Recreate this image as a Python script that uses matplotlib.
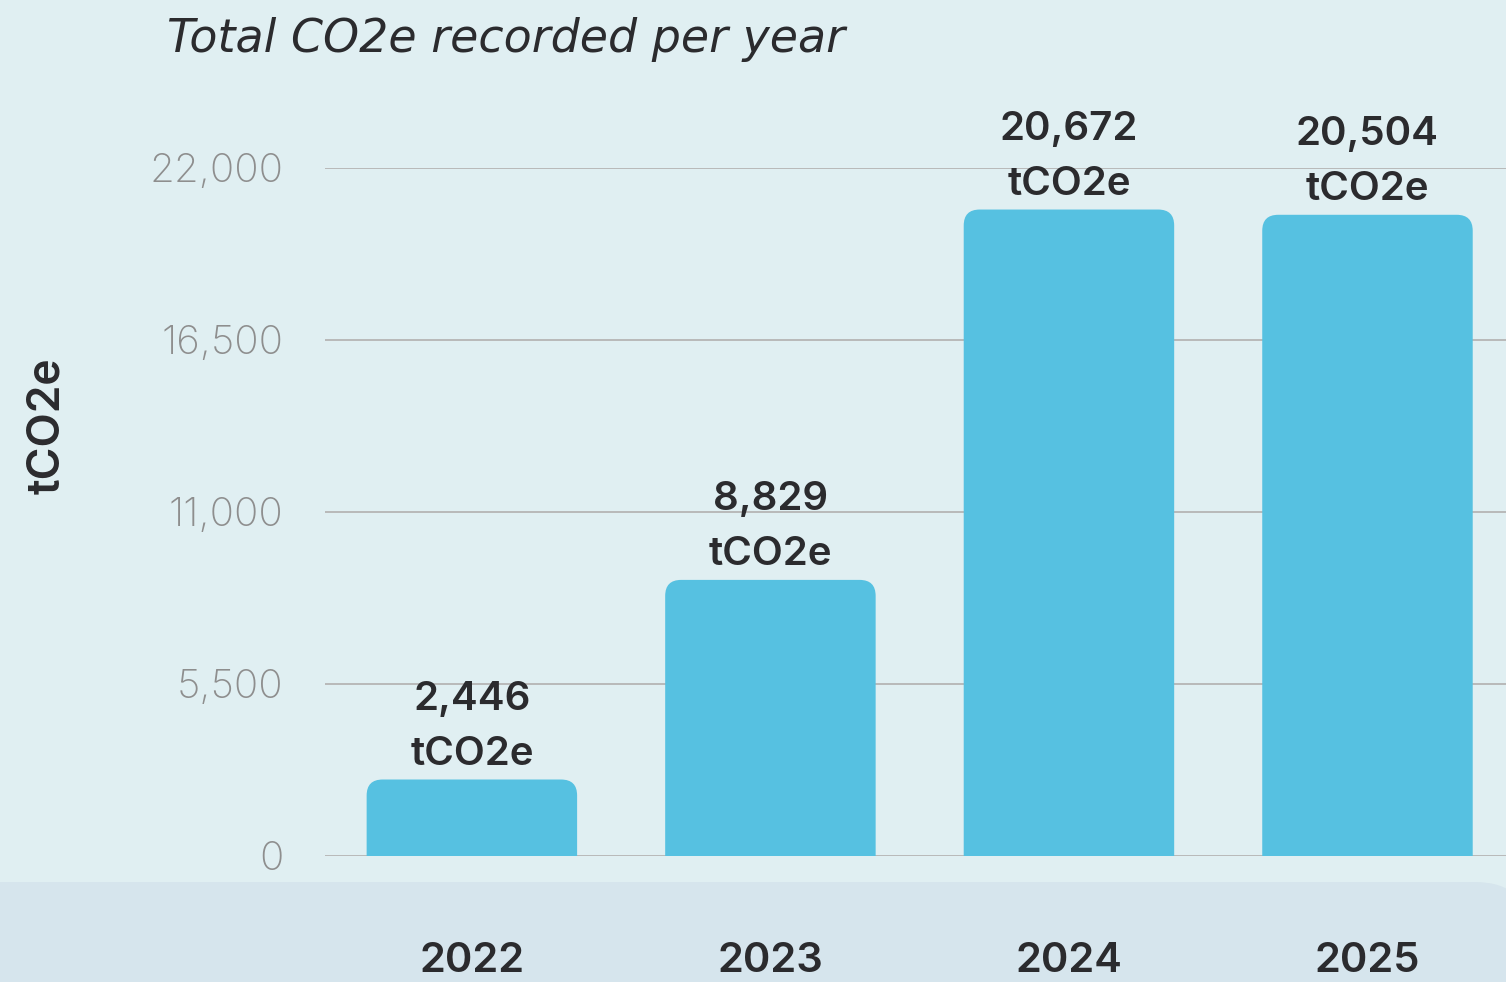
import matplotlib
matplotlib.use("Agg")
import matplotlib.pyplot as plt
from matplotlib.path import Path
from matplotlib.patches import PathPatch, FancyBboxPatch
from matplotlib.transforms import IdentityTransform, blended_transform_factory

# datos
years = ["2022", "2023", "2024", "2025"]
totals = [2446, 8829, 20672, 20504]
yticks = [0, 5500, 11000, 16500, 22000]
unit = "tCO2e"
title = "Total CO2e recorded per year"

BG = "#e0eff2"
BAND = "#d6e5ed"
BAR = "#56c1e1"
DARK = "#2b2b2e"
GREY = "#8e8e8e"


def rounded_top(x0, x1, y0, y1, rx, ry):
    verts = [(x0, y0), (x0, y1 - ry), (x0, y1), (x0 + rx, y1),
             (x1 - rx, y1), (x1, y1), (x1, y1 - ry), (x1, y0), (x0, y0)]
    codes = [Path.MOVETO, Path.LINETO, Path.CURVE3, Path.CURVE3,
             Path.LINETO, Path.CURVE3, Path.CURVE3, Path.LINETO, Path.CLOSEPOLY]
    return Path(verts, codes)


fig = plt.figure(figsize=(15.06, 9.82), dpi=100, facecolor=BG)

# franja inferior con esquina redondeada
band = FancyBboxPatch((-60, -60), 1590, 160, boxstyle="round,pad=0,rounding_size=55",
                      transform=IdentityTransform(), facecolor=BAND, edgecolor="none", zorder=0)
fig.patches.append(band)

ax = fig.add_axes([325 / 1506, 126 / 982, 1 - 325 / 1506, (856 - 168) / 982])
ax.set_facecolor("none")
x = list(range(len(years)))
ax.set_xlim(-0.492, 3.464)
ax.set_ylim(0, 22000)

bars = ax.bar(x, totals, width=0.705, color=BAR, zorder=2)
rx = 16 / 298.5
ry = 16 * 22000 / 688
for b in bars:
    x0, y0 = b.get_x(), b.get_y()
    x1, y1 = x0 + b.get_width(), y0 + b.get_height()
    b.set_visible(False)
    ax.add_patch(PathPatch(rounded_top(x0, x1, y0, y1, rx, ry), facecolor=BAR,
                           edgecolor="none", zorder=2))

for xi, v in zip(x, totals):
    ax.annotate(f"{v:,}\n{unit}", (xi, v), xytext=(0, 5), textcoords="offset points",
                ha="center", va="bottom", fontsize=29, fontweight="semibold",
                family="Inter", color=DARK, linespacing=1.62, clip_on=False)

ax.set_yticks(yticks)
ax.set_yticklabels([f"{t:,}" for t in yticks], family="Inter", fontweight="light",
                   fontsize=29, color=GREY)
ax.grid(axis="y", color="#b5b5b5", linewidth=1.3, zorder=1)
ax.set_axisbelow(True)
ax.tick_params(axis="y", length=0, pad=30)
ax.set_xticks([])
for s in ax.spines.values():
    s.set_visible(False)

trans = blended_transform_factory(ax.transData, fig.transFigure)
for xi, yr in zip(x, years):
    fig.text(xi, 1 - 961 / 982, yr, transform=trans, ha="center", va="center",
             fontsize=30, fontweight="semibold", family="Inter", color=DARK)

fig.text(47 / 1506, 1 - 426 / 982, unit, rotation=90, ha="center", va="center",
         fontsize=32, fontweight="semibold", family="Inter", color=DARK)

fig.text(167 / 1506, 1 - 52 / 982, title, ha="left", va="baseline", fontsize=33,
         style="oblique", family="DejaVu Sans", color=DARK)

plt.savefig("out.png", dpi=100, facecolor=BG)
plt.close()
